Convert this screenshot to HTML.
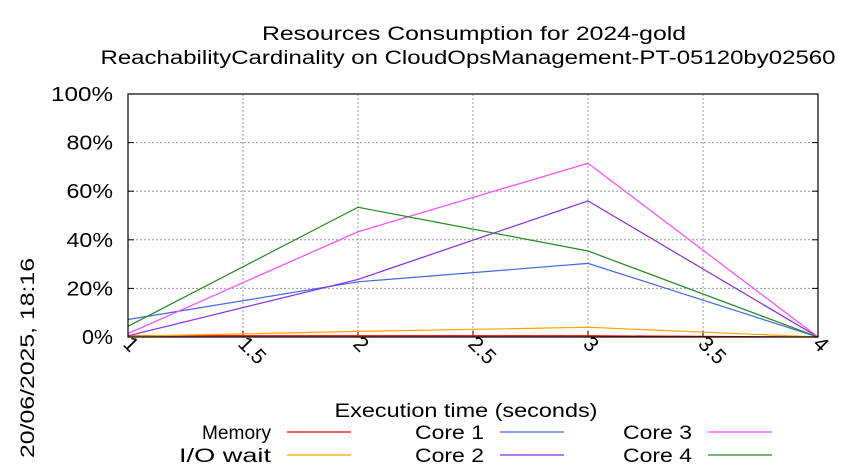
<!DOCTYPE html>
<html><head><meta charset="utf-8"><style>
body{margin:0;background:#fff}
svg{display:block;font-family:"Liberation Sans",sans-serif}
</style></head><body>
<svg id="c" width="850" height="475" xmlns="http://www.w3.org/2000/svg">
<text x="474" y="40" font-size="19" text-anchor="middle" textLength="424" lengthAdjust="spacingAndGlyphs">Resources Consumption for 2024-gold</text>
<text x="468" y="64" font-size="19" text-anchor="middle" textLength="735" lengthAdjust="spacingAndGlyphs">ReachabilityCardinality on CloudOpsManagement-PT-05120by02560</text>
<text transform="translate(34,458) rotate(-90)" x="0" y="0" font-size="19" textLength="200" lengthAdjust="spacingAndGlyphs">20/06/2025, 18:16</text>
<g id="grid"></g>
<g id="series"></g>
<rect x="128" y="94" width="690" height="243" fill="none" stroke="#000" stroke-width="1.2"/>
<text x="466" y="417" font-size="19" text-anchor="middle" textLength="263" lengthAdjust="spacingAndGlyphs">Execution time (seconds)</text>
<g id="legend"></g>
</svg>
<script>
const xTicks=[1,1.5,2,2.5,3,3.5,4];
const xTickLabels=["1","1.5","2","2.5","3","3.5","4"];
const yTicks=[0,20,40,60,80,100];
const yTickLabels=["0%","20%","40%","60%","80%","100%"];
const times=[1,2,3,4];
const memory=[0.5,0.5,0.5,0];
const ioWait=[0.3,2.3,4,0];
const core1=[7.2,22.7,30.3,0];
const core2=[0.5,23.7,56,0];
const core3=[1.4,43.3,71.5,0];
const core4=[4.4,53.4,35.4,0];
const seriesNames=["Memory","I/O wait","Core 1","Core 2","Core 3","Core 4"];
const seriesData=[memory,ioWait,core1,core2,core3,core4];
const seriesColors=["#ff0000","#ffa500","#4169e1","#8a2be2","#ff44ff","#228b22"];
const L=128,R=818,T=94,B=337;
const X=v=>L+(v-1)/3*(R-L);
const Y=v=>B-v/100*(B-T);
const NS="http://www.w3.org/2000/svg";
function mk(t,a,p){const e=document.createElementNS(NS,t);for(const k in a)e.setAttribute(k,a[k]);p.appendChild(e);return e;}
const g=document.getElementById('grid');
xTicks.forEach((t,i)=>{
 const x=X(t);
 if(i>0&&i<xTicks.length-1){const l=mk('line',{x1:x,x2:x,y1:T,y2:B,stroke:'#999','stroke-dasharray':'2,2'},g);
 
 }
 const tk=mk('line',{x1:x,x2:x,y1:B,y2:B-6,stroke:'#000'},g);
 
 
 const tx=mk('text',{transform:`translate(${x-6},${B+8}) rotate(45)`,'font-size':'21','font-stretch':'expanded'},g);
 tx.textContent=xTickLabels[i];
 
 
});
yTicks.forEach((t,i)=>{
 const y=Y(t);
 if(i>0&&i<yTicks.length-1){const l=mk('line',{x1:L,x2:R,y1:y,y2:y,stroke:'#999','stroke-dasharray':'2,2'},g);
 
 }
 mk('line',{x1:L,x2:L+6,y1:y,y2:y,stroke:'#000'},g);
 mk('line',{x1:R,x2:R-6,y1:y,y2:y,stroke:'#000'},g);
 const tx=mk('text',{x:L-15,y:y+7,'font-size':'20','text-anchor':'end',textLength:String(yTickLabels[i].length*15.5),lengthAdjust:'spacingAndGlyphs'},g);
 tx.textContent=yTickLabels[i];
 
 
});
const s=document.getElementById('series');
const lg=document.getElementById('legend');
const legX=[271,484,692],legY=[432,455];
seriesData.forEach((d,i)=>{
 const p=mk('polyline',{points:d.map((v,j)=>X(times[j])+','+Y(v)).join(' '),fill:'none',stroke:seriesColors[i],'stroke-width':'1.2'},s);
 
 
 const col=Math.floor(i/2),row=i%2;
 const e=mk('g',{},lg);
 
 
 const t=mk('text',{x:legX[col],y:legY[row]+7,'font-size':'19','text-anchor':'end',textLength:String(seriesNames[i].length*11.5),lengthAdjust:'spacingAndGlyphs'},e);
 t.textContent=seriesNames[i];
 mk('line',{x1:legX[col]+16,x2:legX[col]+80,y1:legY[row],y2:legY[row],stroke:seriesColors[i],'stroke-width':'1.2'},e);
});
</script>
</body></html>
